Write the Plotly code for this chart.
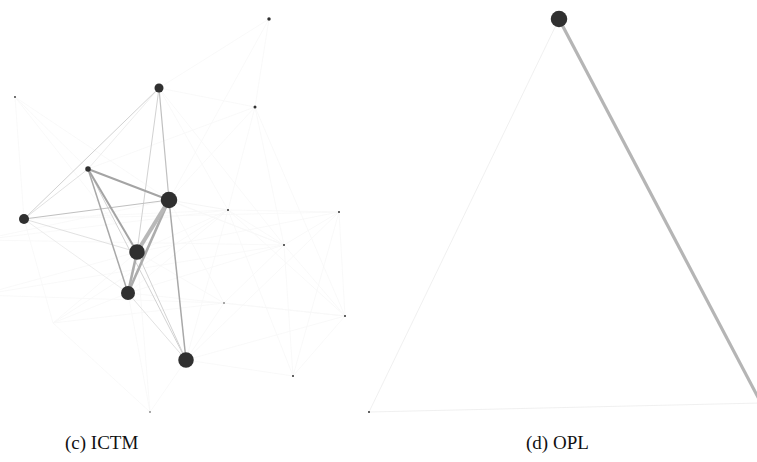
import plotly.graph_objects as go

# ---------------- data: panel (c) ICTM ----------------
c_nodes = ["A", "B", "C", "D", "E", "F", "G", "H", "I", "J", "K", "L", "M", "N", "O", "P", "Q", "R", "X1", "X2"]
c_x = [269, 159, 15, 255, 88, 169, 24, 228, 339, 284, 137, 128, 224, 345, 186, 293, 150, 53, -20, -20]
c_y = [19, 88, 97, 107, 169, 200, 219, 210, 212, 245, 252, 293, 303, 316, 360, 376, 412, 323, 240, 295]
c_deg = [3.5, 9, 1.8, 3, 5.5, 16.5, 10, 2, 2, 2, 15.5, 14, 1.5, 2, 15.5, 2, 1.5, 0, 0, 0]

# edges: (source, target, weight)  weight 1 = faint ... 5 = strongest
c_edges = [
    ("E", "F", 4), ("E", "K", 4), ("E", "L", 3.5), ("F", "K", 5), ("F", "L", 4.5),
    ("K", "L", 4.5), ("F", "O", 3.5), ("B", "F", 3), ("B", "K", 2.5), ("G", "F", 3),
    ("G", "B", 2.5), ("G", "E", 2), ("G", "K", 2.2), ("E", "O", 2.5), ("K", "O", 2.5),
    ("L", "O", 2), ("E", "B", 1.5),
    ("A", "B", 1), ("A", "D", 1), ("A", "F", 1), ("C", "E", 1), ("C", "G", 1), ("C", "F", 1),
    ("C", "K", 1), ("D", "B", 1), ("D", "F", 1), ("D", "E", 1), ("D", "H", 1), ("D", "J", 1),
    ("D", "N", 1), ("H", "F", 1.2), ("H", "G", 1), ("H", "K", 1), ("H", "L", 1), ("H", "O", 1),
    ("H", "I", 1), ("H", "J", 1), ("H", "N", 1), ("I", "J", 1), ("I", "N", 1), ("I", "K", 1),
    ("I", "P", 1), ("J", "F", 1), ("J", "N", 1), ("J", "P", 1), ("J", "L", 1), ("J", "M", 1),
    ("M", "F", 1), ("M", "K", 1), ("M", "O", 1), ("M", "N", 1), ("N", "P", 1), ("N", "O", 1),
    ("P", "O", 1), ("P", "H", 1), ("Q", "L", 1), ("Q", "O", 1), ("Q", "K", 1), ("Q", "R", 1),
    ("R", "H", 1), ("R", "L", 1), ("R", "K", 1), ("R", "M", 1), ("R", "G", 1), ("X1", "H", 1),
    ("X1", "J", 1), ("X1", "F", 1), ("X2", "K", 1), ("X2", "J", 1), ("X2", "M", 1), ("G", "L", 1.5),
    ("B", "H", 1), ("B", "J", 1), ("E", "J", 1), ("G", "I", 1), ("O", "I", 1), ("L", "N", 1),
]

# ---------------- data: panel (d) OPL ----------------
d_nodes = ["T", "BL", "RT"]
d_x = [559, 369, 761]
d_y = [19, 412, 403]
d_deg = [16.5, 2, 2]
d_edges = [("T", "RT", 4.2), ("T", "BL", 1), ("BL", "RT", 1)]

captions = ["(c) ICTM", "(d) OPL"]
caption_x = [101, 557]
caption_y = [443, 443]

# ---------------- styling ----------------
def edge_style(w):
    if w >= 5:
        return "#b8b8b8", 4.0
    if w >= 4.5:
        return "#acacac", 2.6
    if w >= 4:
        return "#a4a4a4", 2.0
    if w >= 3.5:
        return "#a8a8a8", 1.5
    if w >= 3:
        return "#c0c0c0", 1.2
    if w >= 2.5:
        return "#d2d2d2", 1.0
    if w >= 2:
        return "#dedede", 0.9
    if w >= 1.5:
        return "#e8e8e8", 0.8
    if w >= 1.2:
        return "#f2f2f2", 0.8
    return "#f7f7f7", 0.8


fig = go.Figure()


def add_graph(names, xs, ys, sizes, edges, special=None):
    pos = {n: (x, y) for n, x, y in zip(names, xs, ys)}
    groups = {}
    for s, t, w in sorted(edges, key=lambda e: e[2]):
        groups.setdefault(w, []).append((s, t))
    for w in sorted(groups):
        col, wid = edge_style(w)
        if special and w in special:
            col, wid = special[w]
        ex, ey = [], []
        for s, t in groups[w]:
            ex += [pos[s][0], pos[t][0], None]
            ey += [pos[s][1], pos[t][1], None]
        fig.add_trace(go.Scatter(x=ex, y=ey, mode="lines",
                                 line=dict(color=col, width=wid),
                                 hoverinfo="skip", showlegend=False))
    nx = [x for x, s in zip(xs, sizes) if s > 0]
    ny = [y for y, s in zip(ys, sizes) if s > 0]
    ns = [s for s in sizes if s > 0]
    fig.add_trace(go.Scatter(x=nx, y=ny, mode="markers",
                             marker=dict(size=ns, color="#303030", opacity=1, line=dict(width=0)),
                             hoverinfo="skip", showlegend=False))


add_graph(c_nodes, c_x, c_y, c_deg, c_edges)
add_graph(d_nodes, d_x, d_y, d_deg, d_edges,
          special={4.2: ("#b5b5b5", 3.2), 1: ("#ececec", 0.8)})

for txt, x, y in zip(captions, caption_x, caption_y):
    fig.add_annotation(x=x, y=y, text=txt, showarrow=False,
                       font=dict(family="Liberation Serif, DejaVu Serif, serif", size=19, color="#111111"),
                       xanchor="center", yanchor="middle")

fig.update_layout(
    width=757, height=462,
    margin=dict(l=0, r=0, t=0, b=0),
    paper_bgcolor="white", plot_bgcolor="white",
    xaxis=dict(range=[0, 757], visible=False, fixedrange=True),
    yaxis=dict(range=[462, 0], visible=False, fixedrange=True),
    hovermode=False,
)

fig.write_html("out.html",
               config={"displayModeBar": False},
               post_script="document.body.style.margin='0';document.body.style.overflow='hidden';")
